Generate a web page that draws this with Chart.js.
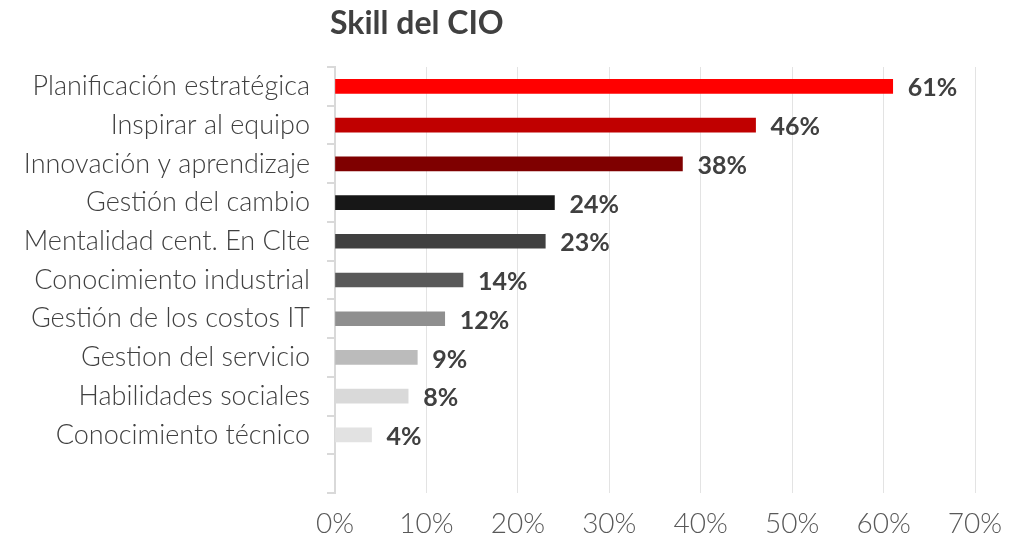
<!DOCTYPE html>
<html>
<head>
<meta charset="utf-8">
<script src="https://cdn.jsdelivr.net/npm/chart.js@4"></script>
<style>
html,body{margin:0;padding:0;background:#fff;}
#wrap{width:1030px;height:541px;position:relative;}
</style>
</head>
<body>
<div id="wrap"><canvas id="c" width="1030" height="541"></canvas></div>
<script>
const titleText = "Skill del CIO";
const categories = [
  "Planificación estratégica",
  "Inspirar al equipo",
  "Innovación y aprendizaje",
  "Gestión del cambio",
  "Mentalidad cent. En Clte",
  "Conocimiento industrial",
  "Gestión de los costos IT",
  "Gestion del servicio",
  "Habilidades sociales",
  "Conocimiento técnico",
  ""
];
const values = [61, 46, 38, 24, 23, 14, 12, 9, 8, 4, null];
const barColors = ["#ff0000","#c00000","#7f0000","#171717","#404040","#595959","#8f8f8f","#bbbbbb","#d9d9d9","#e2e2e2","#ffffff"];
const xTicks = [0, 10, 20, 30, 40, 50, 60, 70];

const FONT = "Lato";

const titlePlugin = {
  id: 'customTitle',
  afterDraw(chart) {
    const ctx = chart.ctx;
    ctx.save();
    ctx.font = "bold 32px " + FONT;
    ctx.fillStyle = "#404040";
    ctx.textAlign = "left";
    ctx.textBaseline = "alphabetic";
    ctx.fillText(titleText, chart.chartArea.left - 5, 34);
    ctx.restore();
  }
};

const labelPlugin = {
  id: 'valueLabels',
  afterDatasetsDraw(chart) {
    const ctx = chart.ctx;
    const meta = chart.getDatasetMeta(0);
    ctx.save();
    ctx.font = "bold 25px " + FONT;
    ctx.fillStyle = "#404040";
    ctx.textAlign = "left";
    ctx.textBaseline = "middle";
    meta.data.forEach((el, i) => {
      const v = values[i];
      if (v === null || v === undefined) return;
      ctx.fillText(v + "%", el.x + 15, el.y + 2);
    });
    ctx.restore();
  }
};

new Chart(document.getElementById('c'), {
  type: 'bar',
  data: {
    labels: categories,
    datasets: [{
      data: values,
      backgroundColor: barColors,
      barThickness: 14,
      borderWidth: 0
    }]
  },
  options: {
    indexAxis: 'y',
    responsive: false,
    animation: false,
    layout: { padding: { top: 67, right: 55, left: 0, bottom: 0 } },
    plugins: {
      legend: { display: false },
      tooltip: { enabled: false },
      title: { display: false }
    },
    scales: {
      x: {
        min: 0,
        max: 70,
        afterBuildTicks(s) { s.ticks = xTicks.map(v => ({ value: v })); },
        afterFit(s) { s.height = 48; },
        grid: { color: "#e3e3e3", lineWidth: 1, drawTicks: false },
        border: { display: false },
        ticks: {
          padding: 14,
          color: "#595959",
          font: { family: FONT, size: 28, weight: 300 },
          callback: v => v + "%"
        }
      },
      y: {
        afterFit(s) { s.width = 335; },
        grid: { offset: true, drawOnChartArea: false, drawTicks: true, tickLength: 8, color: "#d9d9d9", lineWidth: 2 },
        border: { display: true, color: "#d9d9d9", width: 2 },
        ticks: {
          padding: 17,
          color: "#404040",
          font: { family: FONT, size: 27, weight: 300 }
        }
      }
    }
  },
  plugins: [titlePlugin, labelPlugin]
});
</script>
</body>
</html>
